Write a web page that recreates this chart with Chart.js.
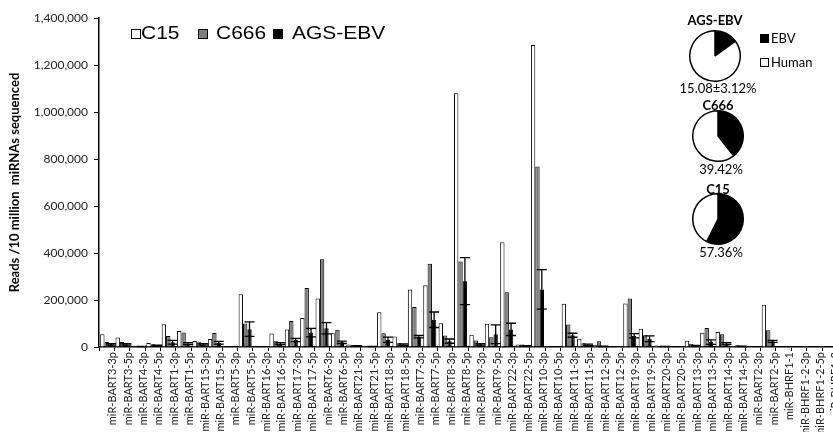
<!DOCTYPE html>
<html>
<head>
<meta charset="utf-8">
<script src="https://cdn.jsdelivr.net/npm/chart.js@4.4.1/dist/chart.umd.min.js"></script>
<style>
  html, body { margin: 0; padding: 0; background: #fff; overflow: hidden; }
  #wrap { position: relative; width: 833px; height: 432px; overflow: hidden; }
  #bars { position: absolute; left: 0; top: 0; }
  .lg-box { position: absolute; width: 7px; height: 7px; border: 1px solid #000; }
  .lg-text { position: absolute; font-family: "Liberation Sans", Arial, sans-serif; font-size: 17.5px; line-height: 18px;
             transform: scaleX(1.2); transform-origin: left center; color: #000; white-space: nowrap; }
  .pie-canvas { position: absolute; }
  .pie-txt { position: absolute; font-family: Lato, sans-serif; font-size: 13px; line-height: 13px; color: #000;
             transform: translate(-50%, -50%); white-space: nowrap; }
  .pie-title { font-weight: bold; }
</style>
</head>
<body>
<div id="wrap">
  <canvas id="bars" width="844" height="432"></canvas>
</div>
<script>
// miRNA names along the x axis
const categories = [
    'miR-BART3-3p', 'miR-BART3-5p', 'miR-BART4-3p', 'miR-BART4-5p', 'miR-BART1-3p', 'miR-BART1-5p',
    'miR-BART15-3p', 'miR-BART15-5p', 'miR-BART5-3p', 'miR-BART5-5p', 'miR-BART16-3p', 'miR-BART16-5p',
    'miR-BART17-3p', 'miR-BART17-5p', 'miR-BART6-3p', 'miR-BART6-5p', 'miR-BART21-3p', 'miR-BART21-5p',
    'miR-BART18-3p', 'miR-BART18-5p', 'miR-BART7-3p', 'miR-BART7-5p', 'miR-BART8-3p', 'miR-BART8-5p',
    'miR-BART9-3p', 'miR-BART9-5p', 'miR-BART22-3p', 'miR-BART22-5p', 'miR-BART10-3p', 'miR-BART10-5p',
    'miR-BART11-3p', 'miR-BART11-5p', 'miR-BART12-3p', 'miR-BART12-5p', 'miR-BART19-3p', 'miR-BART19-5p',
    'miR-BART20-3p', 'miR-BART20-5p', 'miR-BART13-3p', 'miR-BART13-5p', 'miR-BART14-3p', 'miR-BART14-5p',
    'miR-BART2-3p', 'miR-BART2-5p', 'miR-BHRF1-1', 'miR-BHRF1-2-3p', 'miR-BHRF1-2-5p', 'miR-BHRF1-3'
];

// reads per 10 million miRNAs sequenced
const c15Reads = [
    54000, 40000, 4000, 17000, 97000, 68000, 26000, 34000, 1000, 224000, 1500, 57000,
    74000, 123000, 206000, 59000, 11000, 4000, 148000, 45000, 245000, 263000, 101000, 1080000,
    52000, 99000, 446000, 11000, 1285000, 2000, 184000, 35000, 9000, 2000, 185000, 78000,
    6000, 3000, 27000, 61000, 64000, 4000, 2000, 180000, 0, 0, 0, 0
];
const c666Reads = [
    21000, 21000, 3000, 12000, 47000, 62000, 20000, 60000, 500, 100000, 1000, 24000,
    111000, 251000, 373000, 73000, 8000, 3000, 59000, 16000, 170000, 354000, 49000, 364000,
    28000, 42000, 233000, 11000, 768000, 1500, 96000, 16000, 24000, 2000, 206000, 50000,
    5000, 2000, 14000, 81000, 54000, 7000, 1500, 71000, 0, 0, 0, 0
];
const agsReads = [
    11000, 11000, 2000, 6000, 20000, 14000, 11000, 18000, 500, 76000, 500, 14000,
    30000, 61000, 80000, 20000, 5000, 2000, 31000, 10000, 44000, 116000, 25000, 280000,
    11000, 54000, 75000, 5000, 245000, 1000, 50000, 9000, 3000, 1000, 48000, 35000,
    2000, 1000, 5000, 21000, 14000, 3000, 1000, 24000, 0, 0, 0, 0
];
// +/- error on the AGS-EBV replicates
const agsErr = [
    3000, 3000, 500, 2000, 8000, 4000, 3000, 6000, 0, 31000, 0, 4000,
    7000, 18000, 24000, 5000, 1000, 500, 11000, 3000, 5000, 33000, 9000, 100000,
    3000, 40000, 26000, 1000, 84000, 0, 8500, 3000, 1000, 0, 9000, 12000,
    500, 0, 2000, 9500, 4000, 1000, 0, 4000, 0, 0, 0, 0
];

const seriesNames = ['C15', 'C666', 'AGS-EBV'];
const seriesColors = ['#ffffff', '#7f7f7f', '#000000'];

// EBV share of all miRNA reads, per cell line
const pieNames = ['AGS-EBV', 'C666', 'C15'];
const ebvPercent = [15.08, 39.42, 57.36];
const pieCaptions = ['15.08\u00b13.12%', '39.42%', '57.36%'];
const pieSliceNames = ['EBV', 'Human'];

const tickFont = { family: 'Lato', size: 12 };

const errorBars = {
    id: 'errorBars',
    afterDatasetsDraw(chart) {
        const meta = chart.getDatasetMeta(2);
        const y = chart.scales.y;
        const ctx = chart.ctx;
        ctx.save();
        ctx.strokeStyle = '#000';
        ctx.lineWidth = 1.3;
        meta.data.forEach((bar, i) => {
            const e = agsErr[i];
            if (!e) return;
            const yTop = y.getPixelForValue(agsReads[i] + e);
            const yBot = y.getPixelForValue(Math.max(agsReads[i] - e, 0));
            ctx.beginPath();
            ctx.moveTo(bar.x, yTop);
            ctx.lineTo(bar.x, yBot);
            ctx.moveTo(bar.x - 5, yTop);
            ctx.lineTo(bar.x + 5, yTop);
            ctx.moveTo(bar.x - 5, yBot);
            ctx.lineTo(bar.x + 5, yBot);
            ctx.stroke();
        });
        ctx.restore();
    }
};

new Chart(document.getElementById('bars'), {
    type: 'bar',
    data: {
        labels: categories,
        datasets: [c15Reads, c666Reads, agsReads].map((d, i) => ({
            label: seriesNames[i],
            data: d,
            backgroundColor: seriesColors[i],
            borderColor: '#000',
            borderWidth: 1,
            categoryPercentage: 0.85,
            barPercentage: 1.0
        }))
    },
    options: {
        responsive: false,
        animation: false,
        layout: { padding: { top: 18, right: 2, bottom: 0, left: 0 } },
        plugins: { legend: { display: false }, tooltip: { enabled: false } },
        scales: {
            x: {
                afterFit: s => { s.height = 85; },
                border: { color: '#000', width: 1.5 },
                grid: { drawOnChartArea: false, tickLength: 4, color: '#000', lineWidth: 1 },
                ticks: {
                    autoSkip: false, minRotation: 90, maxRotation: 90, padding: 1, labelOffset: 6,
                    color: '#222', font: { family: 'Lato', size: 11 }
                }
            },
            y: {
                min: 0,
                max: 1400000,
                afterFit: s => { s.width = 99; },
                border: { color: '#000', width: 1.5 },
                grid: { drawOnChartArea: false, tickLength: 5, color: '#000', lineWidth: 1 },
                ticks: {
                    stepSize: 200000, padding: 6, color: '#222', font: tickFont,
                    callback: v => v.toLocaleString('en-US')
                },
                title: {
                    display: true,
                    text: 'Reads /10 million  miRNAs sequenced',
                    color: '#000',
                    font: { family: 'Lato', size: 13, weight: 'bold' },
                    padding: { top: 7, bottom: 0 }
                }
            }
        }
    },
    plugins: [errorBars]
});

const wrap = document.getElementById('wrap');

// series legend (placed inside the plot, top left)
const legendBoxX = [131, 198, 273];
const legendTextX = [141, 216, 292];
seriesNames.forEach((name, i) => {
    const box = document.createElement('div');
    box.className = 'lg-box';
    box.style.width = '8px';
    box.style.height = '8px';
    box.style.left = legendBoxX[i] + 'px';
    box.style.top = '29px';
    box.style.background = seriesColors[i];
    wrap.appendChild(box);
    const txt = document.createElement('div');
    txt.className = 'lg-text';
    txt.style.left = legendTextX[i] + 'px';
    txt.style.top = '24px';
    txt.textContent = name;
    wrap.appendChild(txt);
});

// EBV vs human pies
const pieCenters = [[715, 56], [718, 136], [718, 219]];
const pieTitleY = [20, 105, 189];
const pieCaptionY = [88, 169, 252];
const pieSize = 54;

pieNames.forEach((name, i) => {
    const [cx, cy] = pieCenters[i];
    const c = document.createElement('canvas');
    c.className = 'pie-canvas';
    c.width = pieSize;
    c.height = pieSize;
    c.style.left = (cx - pieSize / 2) + 'px';
    c.style.top = (cy - pieSize / 2) + 'px';
    wrap.appendChild(c);
    new Chart(c, {
        type: 'pie',
        data: {
            labels: pieSliceNames,
            datasets: [{
                data: [ebvPercent[i], 100 - ebvPercent[i]],
                backgroundColor: ['#000', '#fff'],
                borderColor: '#000',
                borderWidth: 1.5
            }]
        },
        options: {
            responsive: false,
            animation: false,
            layout: { padding: 1 },
            plugins: { legend: { display: false }, tooltip: { enabled: false } }
        }
    });

    const t = document.createElement('div');
    t.className = 'pie-txt pie-title';
    t.style.left = cx + 'px';
    t.style.top = pieTitleY[i] + 'px';
    t.textContent = name;
    wrap.appendChild(t);

    const p = document.createElement('div');
    p.className = 'pie-txt';
    p.style.left = (cx + 3) + 'px';
    p.style.top = pieCaptionY[i] + 'px';
    p.textContent = pieCaptions[i];
    wrap.appendChild(p);
});

// pie legend
const pieLegendY = [38, 62];
pieSliceNames.forEach((name, i) => {
    const box = document.createElement('div');
    box.className = 'lg-box';
    box.style.left = '760px';
    box.style.top = (pieLegendY[i] - 4) + 'px';
    box.style.background = i === 0 ? '#000' : '#fff';
    wrap.appendChild(box);
    const txt = document.createElement('div');
    txt.className = 'pie-txt';
    txt.style.transform = 'translate(0, -50%)';
    txt.style.left = '771px';
    txt.style.top = pieLegendY[i] + 'px';
    txt.textContent = name;
    wrap.appendChild(txt);
});
</script>
</body>
</html>
